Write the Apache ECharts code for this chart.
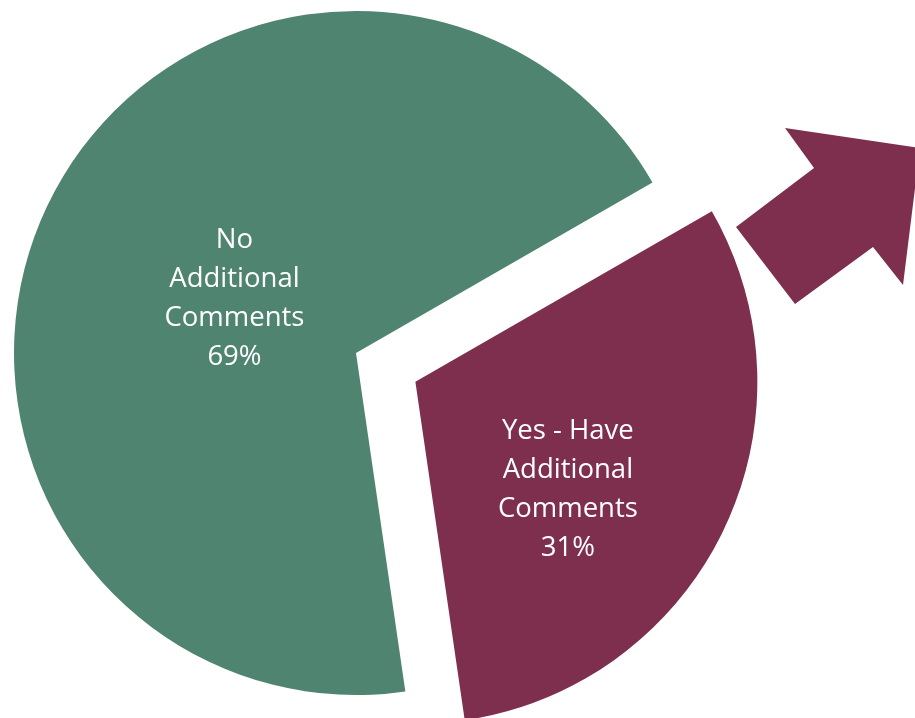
<!DOCTYPE html>
<html>
<head>
<meta charset="utf-8">
<script src="https://cdn.jsdelivr.net/npm/echarts@6/dist/echarts.min.js"></script>
<style>
html,body{margin:0;padding:0;background:#fff;}
#chart{width:915px;height:718px;}
</style>
</head>
<body>
<div id="chart"></div>
<script>
const categories = ["Yes - Have\nAdditional\nComments", "No\nAdditional\nComments"];
const values = [31, 69];
const colors = ["#7E2F4D", "#4F8470"];
const labelOffsets = [[-4, 32], [35, 22]];

const chart = echarts.init(document.getElementById('chart'), null, {renderer: 'canvas'});
const data = categories.map((c, i) => ({
  name: c,
  value: values[i],
  selected: i === 0,
  itemStyle: {color: colors[i]},
  label: {offset: labelOffsets[i]},
  select: {label: {offset: labelOffsets[i]}}
}));

chart.setOption({
  animation: false,
  series: [{
    type: 'pie',
    center: [356, 353],
    radius: [0, 342],
    startAngle: 29.9,
    clockwise: true,
    selectedMode: 'single',
    selectedOffset: 66,
    percentPrecision: 0,
    emphasis: {disabled: true},
    label: {
      show: true,
      position: 'inside',
      formatter: '{b}\n{d}%',
      color: '#ffffff',
      fontFamily: 'Open Sans',
      fontSize: 27.5,
      lineHeight: 39,
      align: 'center'
    },
    labelLine: {show: false},
    data: data
  }],
  graphic: [{
    type: 'polygon',
    shape: {points: [[785,128],[920,148],[903,285],[873,247],[795,304],[736,227],[814,168]]},
    style: {fill: '#7E2F4D'}
  }]
});
</script>
</body>
</html>
